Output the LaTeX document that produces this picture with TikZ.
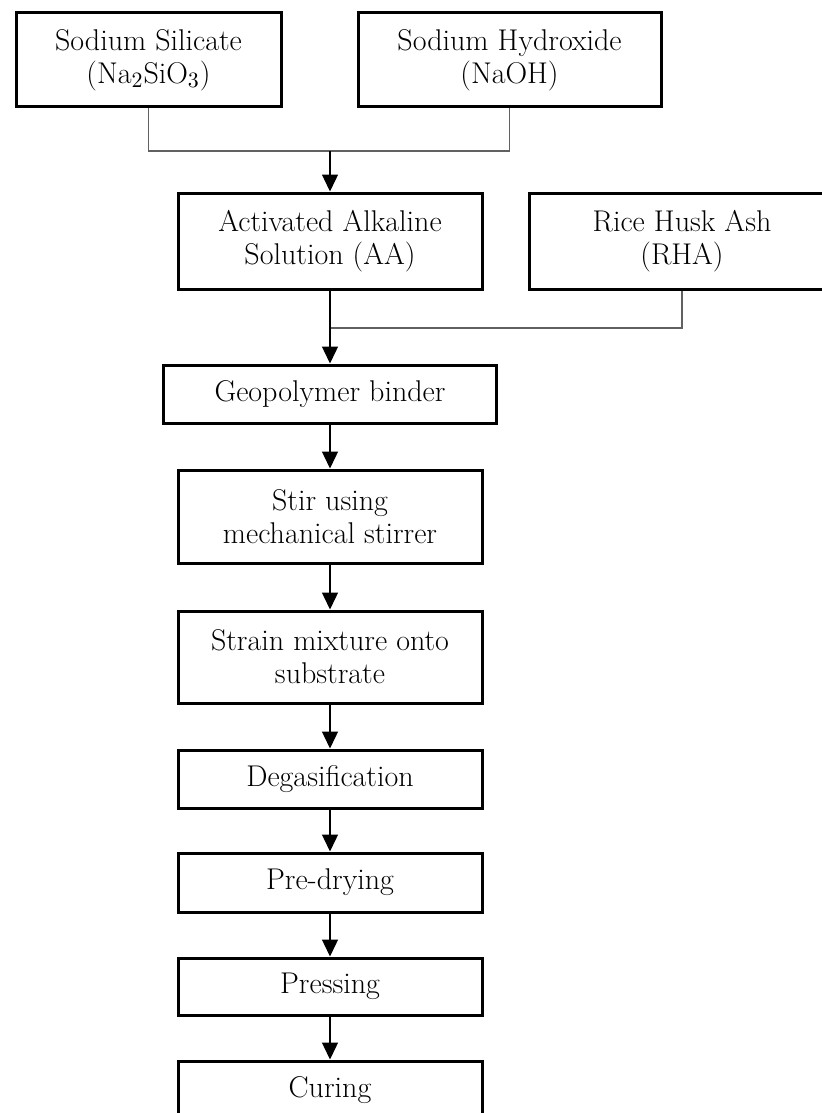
\documentclass[tikz,border=0pt]{standalone}
\usetikzlibrary{shapes,arrows.meta}
\definecolor{joingray}{gray}{0.38}
\tikzstyle{box} = [draw, line width=1.5pt, align=center, inner sep=2pt,
  font=\fontsize{15}{16.5}\selectfont]
\tikzstyle{line} = [draw, line width=0.7pt, -{Triangle[length=8.5pt,width=8pt]}]
\tikzstyle{mixline} = [draw, line width=0.7pt, joingray]

\begin{document}
\begin{tikzpicture}[x=0.5pt,y=-0.5pt]
\useasboundingbox (0,0) rectangle (821,1113);
\node (silicate) at (148.5,60) [box,minimum width=132.5pt,minimum height=47pt] {Sodium Silicate\\(Na$_2$SiO$_3$)};
\node (hydroxide) at (509.5,60) [box,minimum width=151.5pt,minimum height=47pt] {Sodium Hydroxide\\(NaOH)};
\node (alkaline) at (330,241) [box,minimum width=152pt,minimum height=48pt] {Activated Alkaline\\Solution (AA)};
\node (rha) at (682,241) [box,minimum width=153pt,minimum height=48pt] {Rice Husk Ash\\(RHA)};
\node (binder) at (330,394) [box,minimum width=166.5pt,minimum height=29pt] {Geopolymer binder};
\node (stir) at (330,516.5) [box,minimum width=152pt,minimum height=46.5pt] {Stir using\\mechanical stirrer};
\node (strain) at (330,657) [box,minimum width=152pt,minimum height=46pt] {Strain mixture onto\\substrate};
\node (degas) at (330,779) [box,minimum width=152pt,minimum height=29pt] {Degasification};
\node (predry) at (330,882.5) [box,minimum width=152pt,minimum height=29.5pt] {Pre-drying};
\node (press) at (330,986.5) [box,minimum width=152pt,minimum height=28.5pt] {Pressing};
\node (curing) at (330,1090) [box,minimum width=152pt,minimum height=29pt] {Curing};
\coordinate (mix1) at (330,151);
\coordinate (mix2) at (330,328);
% draw lines
\path [mixline] (silicate) |- (mix1);
\path [mixline] (hydroxide) |- (mix1);
\path [line] (mix1) -- (alkaline);
\path [mixline] (rha) |- (mix2);
\path [line] (alkaline) -- (binder);
\path [line] (binder) -- (stir);
\path [line] (stir) -- (strain);
\path [line] (strain) -- (degas);
\path [line] (degas) -- (predry);
\path [line] (predry) -- (press);
\path [line] (press) -- (curing);
\end{tikzpicture}
\end{document}
